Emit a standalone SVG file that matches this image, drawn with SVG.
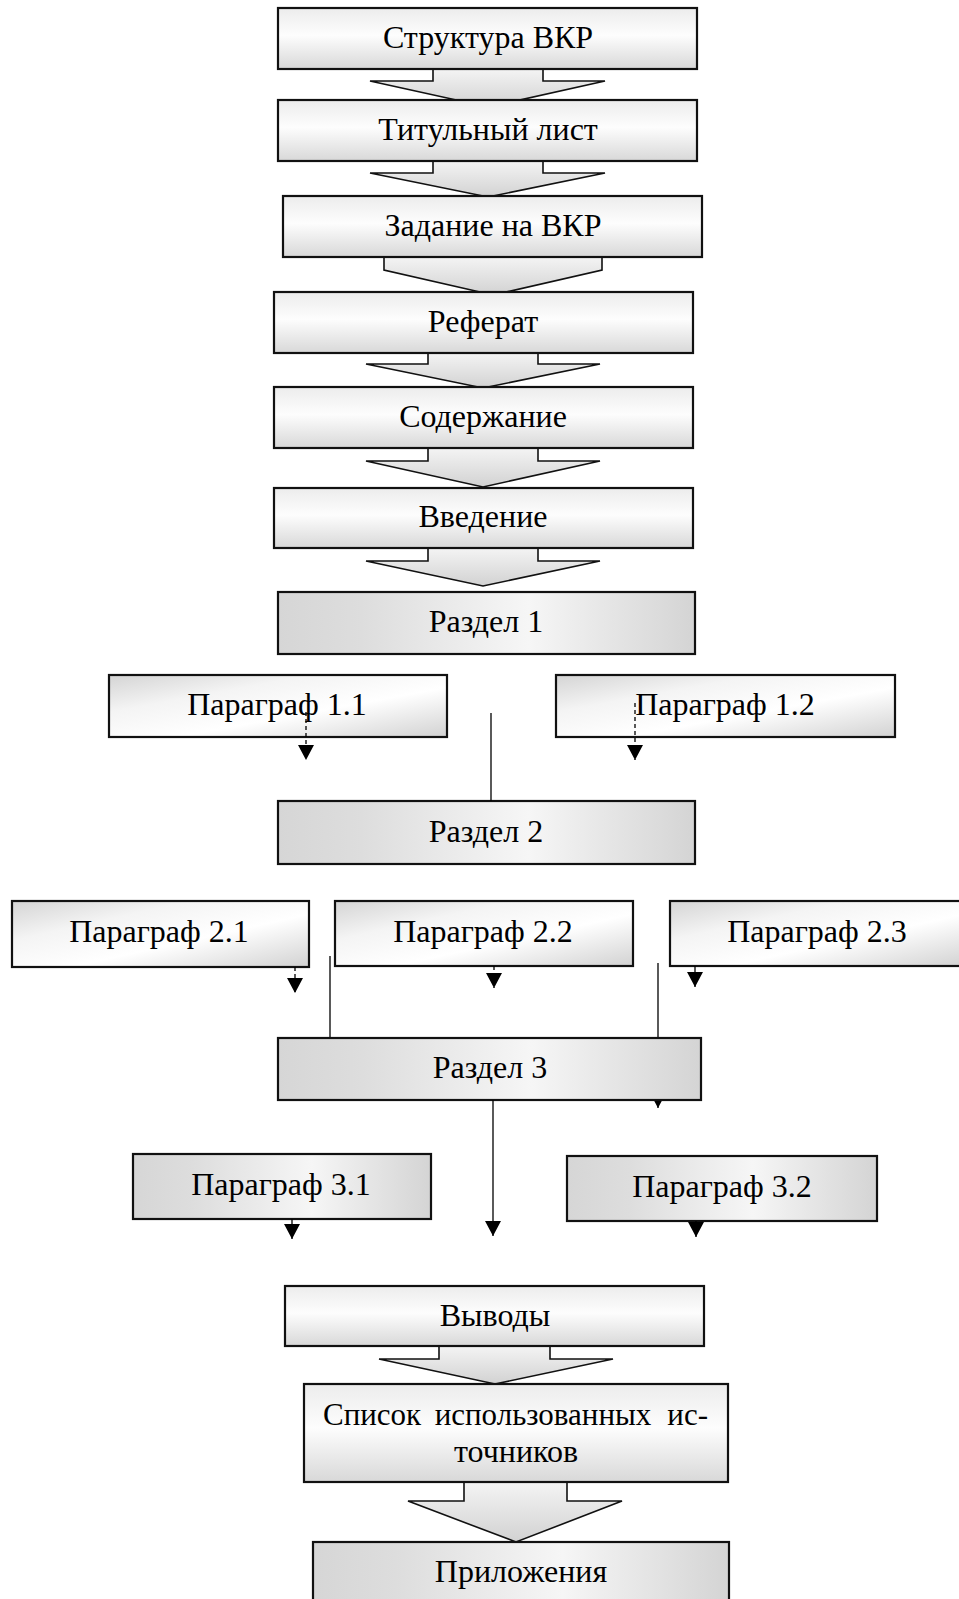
<svg xmlns="http://www.w3.org/2000/svg" width="959" height="1599" viewBox="0 0 959 1599">
<defs>
<linearGradient id="gVert" x1="0" y1="0" x2="0" y2="1">
<stop offset="0" stop-color="#ececec"/><stop offset="0.45" stop-color="#fdfdfd"/><stop offset="1" stop-color="#d8d8d8"/>
</linearGradient>
<linearGradient id="gArrow" x1="0" y1="0" x2="0" y2="1">
<stop offset="0" stop-color="#f4f4f4"/><stop offset="1" stop-color="#d2d2d2"/>
</linearGradient>
<linearGradient id="gHoriz" x1="0" y1="0" x2="1" y2="0">
<stop offset="0" stop-color="#d6d6d6"/><stop offset="0.2" stop-color="#dddddd"/><stop offset="0.6" stop-color="#f6f6f6"/><stop offset="1" stop-color="#d4d4d4"/>
</linearGradient>
<linearGradient id="gDiag" x1="0" y1="0" x2="1" y2="1">
<stop offset="0" stop-color="#d4d4d4"/><stop offset="0.3" stop-color="#f4f4f4"/><stop offset="0.6" stop-color="#ffffff"/><stop offset="1" stop-color="#d2d2d2"/>
</linearGradient>
<marker id="ah" markerUnits="userSpaceOnUse" markerWidth="16" markerHeight="16" refX="15" refY="8" orient="auto">
<path d="M0,0 L15,8 L0,16 z" fill="#000"/>
</marker>
<style>
.box{stroke:#111;stroke-width:2.2}
.v{fill:url(#gVert)}
.h{fill:url(#gHoriz)}
.d{fill:url(#gDiag)}
.ba{fill:url(#gArrow);stroke:#111;stroke-width:1.6;stroke-linejoin:miter}
.t{font-family:"Liberation Serif","Times New Roman",serif;font-size:32px;fill:#000;text-anchor:middle}
.c{fill:none;stroke:#000;stroke-width:1.3}
.dash{stroke-dasharray:4 3}
</style>
</defs>

<g id="block-arrows">
<polygon class="ba" points="433,69 433,81 370,81 488,107 605,81 543,81 543,69"/>
<polygon class="ba" points="433,161 433,173 370,173 488,197 605,173 543,173 543,161"/>
<polygon class="ba" points="384,257 384,270 493,295 602,270 602,257"/>
<polygon class="ba" points="428,353 428,364 366,364 483,388 600,364 538,364 538,353"/>
<polygon class="ba" points="428,448 428,461 366,461 483,487 600,461 538,461 538,448"/>
<polygon class="ba" points="428,548 428,561 366,561 483,586 600,561 538,561 538,548"/>
<polygon class="ba" points="439,1346 439,1359 379,1359 495,1384 613,1359 550,1359 550,1346"/>
<polygon class="ba" points="464,1482 464,1501 408,1501 516,1542 622,1501 567,1501 567,1482"/>
</g>

<g id="connectors">
<line class="c" x1="330" y1="956" x2="330" y2="1101"/>
<line class="c" x1="658" y1="963" x2="658" y2="1108" marker-end="url(#ah)"/>
</g>

<g id="n-struct"><rect class="box v" x="278" y="8" width="419" height="61"/><text class="t" x="488" y="48">Структура ВКР</text></g>
<g id="n-title"><rect class="box v" x="278" y="100" width="419" height="61"/><text class="t" x="488" y="140">Титульный лист</text></g>
<g id="n-task"><rect class="box v" x="283" y="196" width="419" height="61"/><text class="t" x="493" y="236">Задание на ВКР</text></g>
<g id="n-ref"><rect class="box v" x="274" y="292" width="419" height="61"/><text class="t" x="483" y="332">Реферат</text></g>
<g id="n-cont"><rect class="box v" x="274" y="387" width="419" height="61"/><text class="t" x="483" y="427">Содержание</text></g>
<g id="n-intro"><rect class="box v" x="274" y="488" width="419" height="60"/><text class="t" x="483" y="527">Введение</text></g>
<g id="n-r1"><rect class="box h" x="278" y="592" width="417" height="62"/><text class="t" x="486" y="632">Раздел 1</text></g>
<g id="n-p11"><rect class="box d" x="109" y="675" width="338" height="62"/><text class="t" x="277" y="715">Параграф 1.1</text></g>
<g id="n-p12"><rect class="box d" x="556" y="675" width="339" height="62"/><text class="t" x="725" y="715">Параграф 1.2</text></g>
<g id="n-r2"><rect class="box h" x="278" y="801" width="417" height="63"/><text class="t" x="486" y="842">Раздел 2</text></g>
<g id="n-p21"><rect class="box d" x="12" y="901" width="297" height="66"/><text class="t" x="159" y="942">Параграф 2.1</text></g>
<g id="n-p22"><rect class="box d" x="335" y="901" width="298" height="65"/><text class="t" x="483" y="942">Параграф 2.2</text></g>
<g id="n-p23"><rect class="box d" x="670" y="901" width="295" height="65"/><text class="t" x="817" y="942">Параграф 2.3</text></g>
<g id="n-r3"><rect class="box h" x="278" y="1038" width="423" height="62"/><text class="t" x="490" y="1078">Раздел 3</text></g>
<g id="n-p31"><rect class="box h" x="133" y="1154" width="298" height="65"/><text class="t" x="281" y="1195">Параграф 3.1</text></g>
<g id="n-p32"><rect class="box h" x="567" y="1156" width="310" height="65"/><text class="t" x="722" y="1197">Параграф 3.2</text></g>
<g id="n-concl"><rect class="box v" x="285" y="1286" width="419" height="60"/><text class="t" x="495" y="1326">Выводы</text></g>
<g id="n-src"><rect class="box v" x="304" y="1384" width="424" height="98"/><text class="t" y="1425" style="font-size:31px"><tspan x="323" text-anchor="start">Список</tspan><tspan x="543" text-anchor="middle">использованных</tspan><tspan x="708" text-anchor="end">ис-</tspan></text><text class="t" x="516" y="1462">точников</text></g>
<g id="n-app"><rect class="box h" x="313" y="1542" width="416" height="60"/><text class="t" x="521" y="1582">Приложения</text></g>

<g id="connectors-top">
<line class="c dash" x1="306" y1="712" x2="306" y2="760" marker-end="url(#ah)"/>
<line class="c dash" x1="635" y1="703" x2="635" y2="760" marker-end="url(#ah)"/>
<line class="c" x1="491" y1="713" x2="491" y2="801"/>
<line class="c dash" x1="295" y1="967" x2="295" y2="993" marker-end="url(#ah)"/>
<line class="c dash" x1="494" y1="966" x2="494" y2="988" marker-end="url(#ah)"/>
<line class="c" x1="695" y1="966" x2="695" y2="987" marker-end="url(#ah)"/>
<line class="c" x1="493" y1="1100" x2="493" y2="1236" marker-end="url(#ah)"/>
<line class="c" x1="292" y1="1219" x2="292" y2="1239" marker-end="url(#ah)"/>
<line class="c" x1="696" y1="1221" x2="696" y2="1237" marker-end="url(#ah)"/>
</g>
</svg>
